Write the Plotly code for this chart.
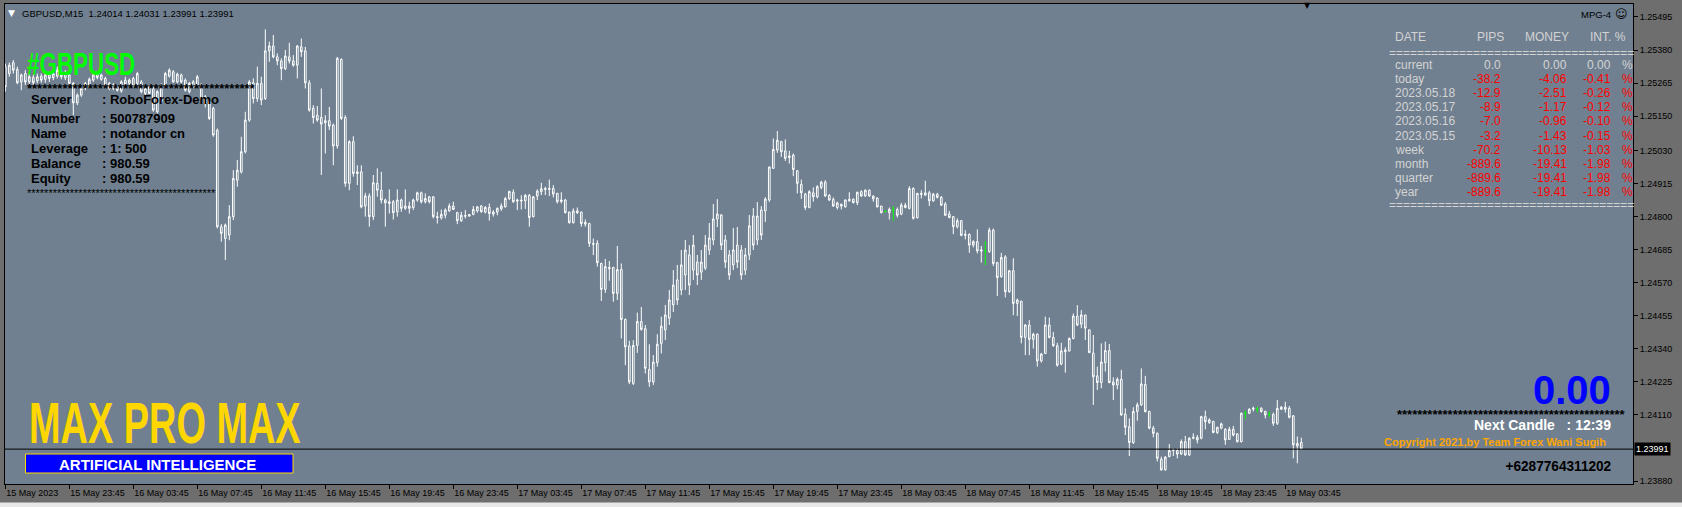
import plotly.graph_objects as go

# ---------------- DATA ----------------
# GBPUSD M15 bars, bar 0 = 15 May 2023 19:45 ... bar 324 = 19 May 2023 04:45
opens = [1.25322,1.25298,1.25336,1.25312,1.25269,1.25298,1.25269,1.25284,1.25273,1.25289,
1.25278,1.25293,1.25284,1.25289,1.25304,1.25284,1.25293,1.25264,1.25196,1.25223,
1.25246,1.25254,1.25275,1.25298,1.25278,1.25281,1.25264,1.25246,1.25252,1.25238,
1.25275,1.25264,1.25281,1.25264,1.25269,1.25229,1.25252,1.25246,1.25165,1.25200,
1.25258,1.25289,1.25304,1.25269,1.25293,1.25275,1.25235,1.25269,1.25258,1.25258,
1.25217,1.25200,1.25177,1.25101,1.24765,1.24724,1.24736,1.24800,1.24927,1.24956,
1.25026,1.25136,1.25266,1.25211,1.25264,1.25211,1.25377,1.25394,1.25356,1.25342,
1.25315,1.25356,1.25342,1.25327,1.25391,1.25377,1.25266,1.25177,1.25153,1.25145,
1.25127,1.25134,1.25119,1.25046,1.25347,1.25145,1.24916,1.25061,1.24950,1.24956,
1.24837,1.24872,1.24800,1.24916,1.24892,1.24858,1.24846,1.24852,1.24817,1.24858,
1.24829,1.24837,1.24832,1.24858,1.24883,1.24852,1.24869,1.24869,1.24800,1.24796,
1.24805,1.24820,1.24837,1.24814,1.24786,1.24804,1.24802,1.24808,1.24820,1.24837,
1.24816,1.24832,1.24809,1.24816,1.24827,1.24834,1.24863,1.24885,1.24854,1.24858,
1.24855,1.24874,1.24800,1.24872,1.24887,1.24898,1.24895,1.24898,1.24881,1.24853,
1.24858,1.24816,1.24779,1.24820,1.24816,1.24774,1.24776,1.24707,1.24707,1.24637,
1.24547,1.24623,1.24623,1.24533,1.24616,1.24442,1.24350,1.24220,1.24352,1.24435,
1.24410,1.24268,1.24225,1.24292,1.24359,1.24406,1.24447,1.24493,1.24580,1.24545,
1.24597,1.24667,1.24614,1.24642,1.24607,1.24621,1.24684,1.24719,1.24792,1.24806,
1.24719,1.24667,1.24632,1.24701,1.24684,1.24614,1.24667,1.24802,1.24719,1.24823,
1.24820,1.24858,1.24968,1.25032,1.25061,1.25029,1.25006,1.25014,1.24960,1.24912,
1.24878,1.24832,1.24883,1.24869,1.24902,1.24920,1.24874,1.24860,1.24832,1.24843,
1.24834,1.24855,1.24861,1.24849,1.24887,1.24872,1.24892,1.24872,1.24865,1.24837,
1.24818,1.24814,1.24823,1.24825,1.24809,1.24840,1.24829,1.24898,1.24796,1.24881,
1.24875,1.24883,1.24855,1.24878,1.24867,1.24844,1.24809,1.24800,1.24765,1.24786,
1.24735,1.24738,1.24701,1.24713,1.24680,1.24679,1.24679,1.24753,1.24640,1.24591,
1.24660,1.24539,1.24612,1.24498,1.24506,1.24380,1.24423,1.24373,1.24391,1.24298,
1.24324,1.24423,1.24380,1.24351,1.24287,1.24330,1.24333,1.24376,1.24454,1.24426,
1.24458,1.24406,1.24325,1.24246,1.24223,1.24292,1.24334,1.24225,1.24214,1.24234,
1.24113,1.24069,1.24014,1.24122,1.24145,1.24216,1.24122,1.24064,1.24046,1.23956,
1.23919,1.23965,1.23986,1.23986,1.23974,1.24017,1.23971,1.24029,1.24032,1.24029,
1.24104,1.24083,1.24087,1.24049,1.24064,1.24060,1.24025,1.24060,1.24044,1.24017,
1.24116,1.24116,1.24130,1.24130,1.24133,1.24122,1.24112,1.24112,1.24081,1.24130,
1.24137,1.24133,1.24107,1.24002,1.24014]

highs = [1.25333,1.25336,1.25345,1.25322,1.25298,1.25310,1.25296,1.25293,1.25298,1.25298,
1.25304,1.25301,1.25310,1.25322,1.25312,1.25310,1.25298,1.25269,1.25229,1.25252,
1.25269,1.25284,1.25298,1.25304,1.25298,1.25287,1.25269,1.25264,1.25258,1.25275,
1.25287,1.25281,1.25287,1.25304,1.25275,1.25252,1.25258,1.25252,1.25240,1.25264,
1.25304,1.25316,1.25310,1.25301,1.25298,1.25281,1.25269,1.25275,1.25293,1.25264,
1.25223,1.25206,1.25182,1.25107,1.24774,1.24776,1.24840,1.24962,1.24997,1.25078,
1.25165,1.25275,1.25281,1.25322,1.25287,1.25452,1.25409,1.25432,1.25368,1.25351,
1.25380,1.25405,1.25362,1.25397,1.25420,1.25391,1.25275,1.25188,1.25185,1.25246,
1.25153,1.25182,1.25124,1.25356,1.25351,1.25153,1.25066,1.25080,1.24979,1.24979,
1.24883,1.24881,1.24945,1.24968,1.24956,1.24863,1.24895,1.24858,1.24895,1.24863,
1.24895,1.24852,1.24863,1.24887,1.24887,1.24881,1.24872,1.24872,1.24817,1.24825,
1.24829,1.24846,1.24852,1.24817,1.24817,1.24823,1.24809,1.24837,1.24837,1.24840,
1.24837,1.24846,1.24823,1.24832,1.24846,1.24869,1.24890,1.24895,1.24863,1.24875,
1.24879,1.24879,1.24872,1.24895,1.24918,1.24904,1.24929,1.24910,1.24883,1.24885,
1.24862,1.24817,1.24829,1.24832,1.24817,1.24790,1.24779,1.24724,1.24718,1.24640,
1.24653,1.24646,1.24626,1.24698,1.24637,1.24446,1.24368,1.24370,1.24466,1.24486,
1.24423,1.24356,1.24318,1.24391,1.24452,1.24493,1.24545,1.24614,1.24632,1.24684,
1.24719,1.24701,1.24736,1.24667,1.24684,1.24736,1.24778,1.24844,1.24861,1.24809,
1.24736,1.24684,1.24761,1.24764,1.24701,1.24691,1.24806,1.24830,1.24851,1.24837,
1.24868,1.24973,1.25072,1.25098,1.25064,1.25069,1.25029,1.25020,1.24962,1.24929,
1.24883,1.24892,1.24902,1.24910,1.24925,1.24927,1.24879,1.24867,1.24852,1.24846,
1.24860,1.24885,1.24863,1.24887,1.24892,1.24895,1.24895,1.24874,1.24867,1.24837,
1.24823,1.24832,1.24837,1.24832,1.24848,1.24848,1.24906,1.24902,1.24883,1.24892,
1.24925,1.24890,1.24883,1.24883,1.24872,1.24851,1.24820,1.24802,1.24794,1.24788,
1.24753,1.24742,1.24718,1.24756,1.24698,1.24715,1.24762,1.24759,1.24643,1.24674,
1.24666,1.24614,1.24655,1.24515,1.24507,1.24426,1.24440,1.24396,1.24394,1.24326,
1.24452,1.24449,1.24399,1.24361,1.24361,1.24345,1.24380,1.24463,1.24492,1.24475,
1.24458,1.24408,1.24388,1.24278,1.24359,1.24365,1.24357,1.24241,1.24241,1.24267,
1.24133,1.24098,1.24137,1.24153,1.24272,1.24246,1.24125,1.24072,1.24049,1.23965,
1.23967,1.24009,1.23994,1.23994,1.24025,1.24037,1.24032,1.24046,1.24040,1.24107,
1.24125,1.24098,1.24090,1.24069,1.24083,1.24064,1.24069,1.24072,1.24046,1.24118,
1.24125,1.24133,1.24139,1.24139,1.24137,1.24125,1.24122,1.24118,1.24162,1.24141,
1.24156,1.24141,1.24110,1.24035,1.24031]

lows = [1.25235,1.25287,1.25298,1.25261,1.25240,1.25258,1.25261,1.25258,1.25264,1.25266,
1.25266,1.25269,1.25275,1.25281,1.25278,1.25275,1.25261,1.25153,1.25188,1.25217,
1.25240,1.25250,1.25269,1.25278,1.25273,1.25252,1.25240,1.25240,1.25235,1.25231,
1.25254,1.25258,1.25252,1.25258,1.25229,1.25223,1.25227,1.25165,1.25159,1.25194,
1.25252,1.25284,1.25266,1.25264,1.25264,1.25235,1.25229,1.25246,1.25252,1.25206,
1.25180,1.25136,1.25078,1.24759,1.24713,1.24649,1.24718,1.24788,1.24904,1.24950,
1.25020,1.25130,1.25194,1.25200,1.25188,1.25206,1.25339,1.25351,1.25327,1.25275,
1.25310,1.25333,1.25322,1.25281,1.25356,1.25246,1.25165,1.25124,1.25130,1.24945,
1.25020,1.25101,1.24979,1.25037,1.25136,1.24904,1.24892,1.24939,1.24910,1.24829,
1.24800,1.24765,1.24788,1.24869,1.24846,1.24765,1.24811,1.24790,1.24800,1.24817,
1.24823,1.24811,1.24823,1.24852,1.24846,1.24846,1.24846,1.24794,1.24776,1.24790,
1.24794,1.24817,1.24823,1.24774,1.24782,1.24794,1.24800,1.24805,1.24814,1.24814,
1.24811,1.24786,1.24800,1.24805,1.24820,1.24832,1.24858,1.24848,1.24823,1.24825,
1.24827,1.24765,1.24797,1.24858,1.24875,1.24875,1.24872,1.24867,1.24846,1.24846,
1.24811,1.24776,1.24776,1.24809,1.24765,1.24765,1.24695,1.24666,1.24626,1.24507,
1.24535,1.24577,1.24504,1.24510,1.24376,1.24283,1.24217,1.24214,1.24326,1.24403,
1.24254,1.24208,1.24214,1.24278,1.24324,1.24371,1.24423,1.24468,1.24493,1.24527,
1.24545,1.24527,1.24580,1.24562,1.24580,1.24614,1.24667,1.24701,1.24764,1.24684,
1.24621,1.24580,1.24614,1.24621,1.24580,1.24597,1.24649,1.24684,1.24701,1.24719,
1.24781,1.24851,1.24968,1.25022,1.25008,1.24994,1.24985,1.24941,1.24881,1.24862,
1.24823,1.24829,1.24852,1.24863,1.24895,1.24869,1.24855,1.24834,1.24825,1.24825,
1.24832,1.24852,1.24846,1.24840,1.24869,1.24869,1.24869,1.24852,1.24832,1.24811,
1.24814,1.24790,1.24786,1.24797,1.24805,1.24829,1.24825,1.24790,1.24794,1.24863,
1.24872,1.24837,1.24852,1.24863,1.24837,1.24802,1.24794,1.24739,1.24759,1.24732,
1.24721,1.24674,1.24693,1.24672,1.24640,1.24631,1.24674,1.24628,1.24524,1.24588,
1.24519,1.24535,1.24457,1.24454,1.24359,1.24318,1.24318,1.24341,1.24278,1.24292,
1.24322,1.24376,1.24347,1.24278,1.24283,1.24257,1.24330,1.24373,1.24419,1.24412,
1.24371,1.24325,1.24145,1.24197,1.24203,1.24261,1.24220,1.24162,1.24199,1.24107,
1.24040,1.23967,1.24009,1.24090,1.24141,1.24118,1.24060,1.24032,1.23948,1.23916,
1.23916,1.23963,1.23967,1.23959,1.23971,1.23967,1.23967,1.24025,1.24011,1.24025,
1.24060,1.24079,1.24046,1.24044,1.24060,1.24006,1.24023,1.24035,1.24014,1.24014,
1.24095,1.24113,1.24122,1.24118,1.24118,1.24098,1.24102,1.24072,1.24075,1.24127,
1.24118,1.24098,1.23959,1.23942,1.23991]

closes = [1.25252,1.25327,1.25310,1.25266,1.25293,1.25269,1.25287,1.25266,1.25287,1.25275,
1.25293,1.25281,1.25298,1.25310,1.25287,1.25298,1.25264,1.25196,1.25223,1.25246,
1.25264,1.25278,1.25293,1.25284,1.25293,1.25258,1.25246,1.25258,1.25240,1.25269,
1.25261,1.25275,1.25254,1.25298,1.25235,1.25246,1.25229,1.25171,1.25235,1.25258,
1.25298,1.25310,1.25269,1.25296,1.25269,1.25240,1.25264,1.25252,1.25287,1.25211,
1.25194,1.25142,1.25084,1.24765,1.24742,1.24771,1.24800,1.24933,1.24962,1.25026,
1.25136,1.25269,1.25211,1.25264,1.25206,1.25377,1.25394,1.25356,1.25342,1.25315,
1.25359,1.25342,1.25327,1.25394,1.25374,1.25266,1.25171,1.25145,1.25136,1.25122,
1.25134,1.25115,1.25046,1.25351,1.25142,1.24916,1.25061,1.24950,1.24956,1.24834,
1.24872,1.24800,1.24918,1.24892,1.24858,1.24848,1.24852,1.24814,1.24858,1.24829,
1.24837,1.24829,1.24858,1.24883,1.24852,1.24863,1.24852,1.24800,1.24797,1.24808,
1.24823,1.24837,1.24825,1.24786,1.24805,1.24802,1.24807,1.24825,1.24834,1.24817,
1.24832,1.24811,1.24816,1.24829,1.24837,1.24863,1.24888,1.24852,1.24858,1.24855,
1.24874,1.24797,1.24869,1.24889,1.24897,1.24895,1.24898,1.24879,1.24852,1.24858,
1.24814,1.24779,1.24820,1.24814,1.24776,1.24780,1.24707,1.24704,1.24640,1.24547,
1.24626,1.24619,1.24533,1.24616,1.24442,1.24347,1.24225,1.24352,1.24435,1.24408,
1.24272,1.24225,1.24294,1.24356,1.24419,1.24458,1.24510,1.24562,1.24510,1.24632,
1.24684,1.24562,1.24701,1.24597,1.24642,1.24701,1.24726,1.24792,1.24809,1.24701,
1.24642,1.24597,1.24684,1.24642,1.24597,1.24667,1.24768,1.24701,1.24802,1.24736,
1.24861,1.24973,1.25034,1.25066,1.25026,1.25003,1.25011,1.24964,1.24916,1.24883,
1.24832,1.24887,1.24869,1.24904,1.24920,1.24872,1.24858,1.24837,1.24848,1.24837,
1.24858,1.24860,1.24849,1.24885,1.24872,1.24892,1.24872,1.24862,1.24834,1.24814,
1.24818,1.24825,1.24823,1.24805,1.24840,1.24832,1.24898,1.24794,1.24881,1.24878,
1.24883,1.24855,1.24878,1.24867,1.24840,1.24805,1.24797,1.24765,1.24786,1.24735,
1.24738,1.24701,1.24713,1.24681,1.24684,1.24679,1.24753,1.24637,1.24588,1.24658,
1.24539,1.24612,1.24498,1.24510,1.24380,1.24423,1.24373,1.24391,1.24298,1.24322,
1.24423,1.24380,1.24351,1.24283,1.24333,1.24336,1.24376,1.24454,1.24423,1.24458,
1.24412,1.24327,1.24243,1.24223,1.24294,1.24334,1.24223,1.24214,1.24234,1.24110,
1.24067,1.24014,1.24122,1.24145,1.24218,1.24122,1.24064,1.24046,1.23959,1.23919,
1.23963,1.23986,1.23988,1.23974,1.24017,1.23971,1.24029,1.24032,1.24023,1.24104,
1.24087,1.24093,1.24049,1.24067,1.24079,1.24023,1.24060,1.24040,1.24017,1.24116,
1.24116,1.24130,1.24133,1.24130,1.24122,1.24110,1.24112,1.24081,1.24133,1.24137,
1.24130,1.24102,1.24006,1.24011,1.23991]

time_labels = ["15 May 2023", "15 May 23:45", "16 May 03:45", "16 May 07:45", "16 May 11:45",
               "16 May 15:45", "16 May 19:45", "16 May 23:45", "17 May 03:45", "17 May 07:45",
               "17 May 11:45", "17 May 15:45", "17 May 19:45", "17 May 23:45", "18 May 03:45",
               "18 May 07:45", "18 May 11:45", "18 May 15:45", "18 May 19:45", "18 May 23:45",
               "19 May 03:45"]
time_label_bars = [16 * k for k in range(len(time_labels))]

price_labels = ["1.25495", "1.25380", "1.25265", "1.25150", "1.25030", "1.24915", "1.24800",
                "1.24685", "1.24570", "1.24455", "1.24340", "1.24225", "1.24110", "1.23880"]
current_price = 1.23991
header_text = "GBPUSD,M15  1.24014 1.24031 1.23991 1.23991"

info_labels = ["Server", "Number", "Name", "Leverage", "Balance", "Equity"]
info_values = ["RoboForex-Demo", "500787909", "notandor cn", "1: 500", "980.59", "980.59"]

table_rows = ["current", "today", "2023.05.18", "2023.05.17", "2023.05.16", "2023.05.15",
              "week", "month", "quarter", "year"]
table_pips = ["0.0", "-38.2", "-12.9", "-8.9", "-7.0", "-3.2", "-70.2", "-889.6", "-889.6", "-889.6"]
table_money = ["0.00", "-4.06", "-2.51", "-1.17", "-0.96", "-1.43", "-10.13", "-19.41", "-19.41", "-19.41"]
table_pct = ["0.00", "-0.41", "-0.26", "-0.12", "-0.10", "-0.15", "-1.03", "-1.98", "-1.98", "-1.98"]

# ---------------- LAYOUT HELPERS ----------------
W, H = 1682, 507
ML, MR, MT, MB = 5, 49, 4, 23
PW, PH = W - ML - MR, H - MT - MB
BG = "#708090"
AXBG = "#6e6e6e"
FONT = "Liberation Sans, Arial, sans-serif"


def px(x):
    return (x - ML) / PW


def py(y):
    return (H - MB - y) / PH


n = len(closes)
xs = list(range(n))
is_doji = [opens[i] == closes[i] for i in range(n)]


def pick(arr, want_doji):
    return [arr[i] if is_doji[i] == want_doji else None for i in range(n)]


fig = go.Figure()
style = dict(line=dict(color="white", width=1), fillcolor=BG)
fig.add_trace(go.Candlestick(
    x=xs, open=pick(opens, False), high=pick(highs, False),
    low=pick(lows, False), close=pick(closes, False),
    increasing=style, decreasing=style, whiskerwidth=0, hoverinfo="skip", showlegend=False))
gstyle = dict(line=dict(color="#00ff00", width=1), fillcolor="#00ff00")
fig.add_trace(go.Candlestick(
    x=xs, open=pick(opens, True), high=pick(highs, True),
    low=pick(lows, True), close=pick(closes, True),
    increasing=gstyle, decreasing=gstyle, whiskerwidth=0, hoverinfo="skip", showlegend=False))

ann = []


def text(x, y, s, size, color="black", xanchor="left", family=FONT, bold=False):
    if bold:
        s = "<b>" + s + "</b>"
    ann.append(dict(x=px(x), y=py(y), xref="paper", yref="paper", text=s, showarrow=False,
                    xanchor=xanchor, yanchor="middle", font=dict(size=size, color=color, family=family)))


# header
text(11, 13, "▼", 9, "white", "center", family="DejaVu Sans")
text(20, 13, header_text, 9.5)
text(1613, 14, "MPG-4", 9.5, xanchor="right")
text(1621, 14, "☺", 12, xanchor="center", family="DejaVu Sans")
text(1307, 6, "▼", 8, "black", "center", family="DejaVu Sans")

# left block
text(25, 64, "#GBPUSD", 32, "#00ff00", bold=True)
text(25, 88, "*" * 45, 13, bold=True)
info_y = [100, 118, 133, 148, 163, 178]
for lab, val, yy in zip(info_labels, info_values, info_y):
    text(29, yy, lab, 13, bold=True)
    text(100, yy, ": " + val, 13, bold=True)
text(25, 193, "*" * 44, 11)

text(27, 423, "MAX PRO MAX", 57, "#ffd700", bold=True)
text(157, 464, "ARTIFICIAL INTELLIGENCE", 15, "white", "center", bold=True)

# right table
LG = "#d3d3d3"
text(1393, 37, "DATE", 12, LG)
text(1506, 37, "PIPS", 12, LG, "right")
text(1571, 37, "MONEY", 12, LG, "right")
text(1628, 37, "INT. %", 12, LG, "right")
text(1387, 53, "=" * 35, 12, LG)
text(1387, 205, "=" * 35, 12, LG)
for k in range(len(table_rows)):
    yy = 65 + 14.1 * k
    vc = LG if k == 0 else "#ff0000"
    text(1392.5, yy, table_rows[k], 12, LG)
    text(1503, yy, table_pips[k], 12, vc, "right")
    text(1569, yy, table_money[k], 12, vc, "right")
    text(1613, yy, table_pct[k], 12, vc, "right")
    text(1620, yy, "%", 12, vc)

text(1613, 390, "0.00", 40, "#0000ff", "right", bold=True)
text(1628, 414, "*" * 45, 13, "black", "right", bold=True)
text(1613, 425, "Next Candle   : 12:39", 14, "white", "right", bold=True)
text(1608, 442, "Copyright 2021,by Team Forex Wani Sugih", 11, "#ffa500", "right", bold=True)
text(1613, 465, "+6287764311202", 15.5, "black", "right", bold=True)

# current price box on the axis
ann.append(dict(x=1.0, y=current_price, xref="paper", yref="y", text=f"{current_price:.5f}",
                showarrow=False, xanchor="left", yanchor="middle", xshift=1,
                bgcolor="black", borderpad=1, font=dict(size=9, color="white", family=FONT)))

shapes = [
    dict(type="line", xref="paper", yref="y", x0=0, x1=1, y0=current_price, y1=current_price,
         line=dict(color="black", width=1)),
    dict(type="rect", xref="paper", yref="paper", x0=px(25.5), x1=px(293), y0=py(473), y1=py(454),
         fillcolor="#0000ff", line=dict(color="#ffd700", width=1), layer="above"),
    dict(type="rect", xref="paper", yref="paper", x0=px(0), x1=px(W), y0=py(507), y1=py(502.5),
         fillcolor="#e8e8e8", line=dict(width=0), layer="below"),
]

ymin = 1.25554 - 484 * 0.0000348
ymax = 1.25554 - 4 * 0.0000348
fig.update_layout(
    width=W, height=H, margin=dict(l=ML, r=MR, t=MT, b=MB),
    paper_bgcolor=AXBG, plot_bgcolor=BG, boxgap=0.4,
    annotations=ann, shapes=shapes, showlegend=False,
    xaxis=dict(range=[-0.075, -0.075 + PW / 4.0], rangeslider=dict(visible=False),
               showgrid=False, zeroline=False, showline=True, mirror=True, linecolor="black",
               linewidth=1, tickmode="array", tickvals=time_label_bars, ticktext=time_labels,
               ticks="outside", ticklen=4, tickcolor="black", ticklabelposition="outside right",
               tickfont=dict(size=9, color="black", family=FONT)),
    yaxis=dict(range=[ymin, ymax], side="right", showgrid=False, zeroline=False, showline=True,
               mirror=True, linecolor="black", linewidth=1, tickmode="array",
               tickvals=[float(v) for v in price_labels], ticktext=price_labels,
               ticks="outside", ticklen=4, tickcolor="black",
               tickfont=dict(size=9, color="black", family=FONT)),
)

# page reset (no body margin) and horizontal condensing of the condensed-font captions
post_js = """
document.documentElement.style.margin='0';
document.body.style.margin='0';
document.body.style.overflow='hidden';
var squeeze = [['MAX PRO MAX', 0.665, 'l'], ['#GBPUSD', 0.70, 'l'], ['+6287764311202', 0.88, 'r']];
document.querySelectorAll('text.annotation-text').forEach(function(t){
  squeeze.forEach(function(s){
    if (t.textContent === s[0]) {
      var b = t.getBBox();
      var ax = (s[2] === 'l') ? b.x : b.x + b.width;
      t.setAttribute('transform', 'translate(' + (ax * (1 - s[1])) + ',0) scale(' + s[1] + ',1)');
    }
  });
});
"""

fig.write_html("out.html", config={"displayModeBar": False, "staticPlot": True}, post_script=post_js)
